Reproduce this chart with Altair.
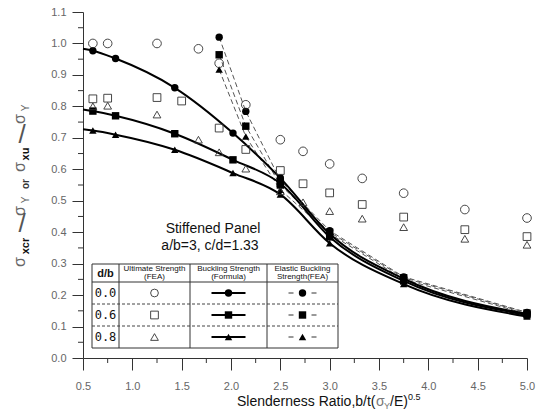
import altair as alt
import pandas as pd

# ---------------- data ----------------
x_ticks = [0.5, 1.0, 1.5, 2.0, 2.5, 3.0, 3.5, 4.0, 4.5, 5.0]
x_minor = [0.75, 1.25, 1.75, 2.25, 2.75, 3.25, 3.75, 4.25, 4.75]
y_ticks = [0.0, 0.1, 0.2, 0.3, 0.4, 0.5, 0.6, 0.7, 0.8, 0.9, 1.0, 1.1]
y_minor = [0.05, 0.15, 0.25, 0.35, 0.45, 0.55, 0.65, 0.75, 0.85, 0.95, 1.05]

# Ultimate strength (FEA) - open markers
ult_circle_x = [0.6, 0.75, 1.25, 1.67, 1.88, 2.15, 2.5, 2.73, 3.0, 3.33, 3.75, 4.37, 5.0]
ult_circle_y = [1.0, 1.0, 1.0, 0.983, 0.937, 0.805, 0.694, 0.657, 0.617, 0.571, 0.524, 0.472, 0.445]
ult_square_x = [0.6, 0.75, 1.25, 1.5, 1.88, 2.15, 2.5, 2.73, 3.0, 3.33, 3.75, 4.37, 5.0]
ult_square_y = [0.824, 0.826, 0.828, 0.817, 0.731, 0.663, 0.596, 0.554, 0.525, 0.488, 0.448, 0.408, 0.386]
ult_tri_x = [0.6, 0.75, 1.25, 1.67, 1.88, 2.15, 2.5, 2.73, 3.0, 3.33, 3.75, 4.37, 5.0]
ult_tri_y = [0.80, 0.802, 0.774, 0.694, 0.654, 0.602, 0.53, 0.495, 0.467, 0.443, 0.416, 0.379, 0.36]

# Buckling strength (formula) - solid lines
form_x = [0.5, 0.6, 0.83, 1.43, 2.02, 2.5, 3.0, 3.75, 5.0]
form_circle_y = [0.983, 0.977, 0.952, 0.859, 0.715, 0.572, 0.395, 0.252, 0.14]
form_square_y = [0.79, 0.785, 0.77, 0.713, 0.63, 0.555, 0.385, 0.245, 0.137]
form_tri_y = [0.727, 0.723, 0.71, 0.662, 0.588, 0.52, 0.365, 0.235, 0.132]

# Elastic buckling strength (FEA) - dashed lines
ela_x = [1.88, 2.15, 2.5, 3.0, 3.75, 5.0]
ela_circle_y = [1.02, 0.784, 0.565, 0.405, 0.258, 0.145]
ela_square_y = [0.964, 0.737, 0.55, 0.40, 0.255, 0.143]
ela_tri_y = [0.917, 0.704, 0.535, 0.395, 0.25, 0.14]

legend_rows = ["0.0", "0.6", "0.8"]
shapes = ["circle", "square", "triangle-up"]

# ---------------- chart ----------------
FONT = "Liberation Sans"
W, H = 444, 346
xsc = alt.Scale(domain=[0.5, 5.0], nice=False, zero=False)
ysc = alt.Scale(domain=[0.0, 1.1], nice=False, zero=False)
one = pd.DataFrame({"k": [0]})


def frame(xs, ys):
    return pd.DataFrame({"x": xs, "y": ys})


x_axis = alt.Axis(values=x_ticks, format=".1f", tickSize=12, labelPadding=10,
                  labelColor="#666", labelFont=FONT, labelFontSize=11,
                  domainColor="#333", tickColor="#333", grid=False, title=None,
                  labelFlush=False, labelOverlap=False, labelBound=False)
y_axis = alt.Axis(values=y_ticks, format=".1f", tickSize=11, labelPadding=6,
                  labelColor="#666", labelFont=FONT, labelFontSize=11,
                  domainColor="#333", tickColor="#333", grid=False, title=None,
                  labelFlush=False, labelOverlap=False, labelBound=False)

layers = []

# minor ticks
layers.append(
    alt.Chart(pd.DataFrame({"x": x_minor})).mark_rule(color="#333", strokeWidth=1).encode(
        x=alt.X("x:Q", scale=xsc, axis=x_axis), y=alt.value(H), y2=alt.value(H + 5)
    )
)
layers.append(
    alt.Chart(pd.DataFrame({"y": y_minor})).mark_rule(color="#333", strokeWidth=1).encode(
        y=alt.Y("y:Q", scale=ysc, axis=y_axis), x=alt.value(-5), x2=alt.value(0)
    )
)

enc = dict(x=alt.X("x:Q", scale=xsc, axis=x_axis), y=alt.Y("y:Q", scale=ysc, axis=y_axis))

# dashed elastic lines
for ys in [ela_circle_y, ela_square_y, ela_tri_y]:
    layers.append(
        alt.Chart(frame(ela_x, ys)).mark_line(color="#555", strokeWidth=1, strokeDash=[5, 3]).encode(**enc)
    )
# formula lines
for ys in [form_circle_y, form_square_y, form_tri_y]:
    layers.append(
        alt.Chart(frame(form_x, ys)).mark_line(color="#000", strokeWidth=2, interpolate="monotone").encode(**enc)
    )
# formula markers
for ys, shp in zip([form_circle_y, form_square_y, form_tri_y], shapes):
    layers.append(
        alt.Chart(frame(form_x, ys)).transform_filter("datum.x > 0.55").mark_point(
            shape=shp, filled=True, color="#000", size=55, opacity=1).encode(**enc)
    )
# elastic markers
for ys, shp in zip([ela_circle_y, ela_square_y, ela_tri_y], shapes):
    layers.append(
        alt.Chart(frame(ela_x, ys)).mark_point(
            shape=shp, filled=True, color="#000", size=55, opacity=1).encode(**enc)
    )
# ultimate open markers
for xs, ys, shp, sz in zip([ult_circle_x, ult_square_x, ult_tri_x],
                           [ult_circle_y, ult_square_y, ult_tri_y], shapes, [75, 60, 60]):
    layers.append(
        alt.Chart(frame(xs, ys)).mark_point(
            shape=shp, filled=False, color="#333", strokeWidth=0.9, size=sz, opacity=1).encode(**enc)
    )

# annotation text
layers.append(alt.Chart(one).mark_text(text="Stiffened Panel", font=FONT, fontSize=14, color="#111").encode(
    x=alt.value(130), y=alt.value(217)))
layers.append(alt.Chart(one).mark_text(text="a/b=3, c/d=1.33", font=FONT, fontSize=14, color="#111").encode(
    x=alt.value(127), y=alt.value(234)))

# ---- legend table ----
L, R, T, B = 9, 255, 252, 336
HB = 270
ROWS = [292, 314]
COLS = [36, 107, 184]
layers.append(alt.Chart(one).mark_rect(fill="white", stroke="#333", strokeWidth=1).encode(
    x=alt.value(L), x2=alt.value(R), y=alt.value(T), y2=alt.value(B)))
layers.append(alt.Chart(one).mark_rule(color="#333", strokeWidth=1).encode(
    x=alt.value(L), x2=alt.value(R), y=alt.value(HB)))
for ry in ROWS:
    layers.append(alt.Chart(one).mark_rule(color="#444", strokeWidth=1, strokeDash=[3, 2]).encode(
        x=alt.value(L), x2=alt.value(R), y=alt.value(ry)))
for cx in COLS:
    layers.append(alt.Chart(one).mark_rule(color="#333", strokeWidth=1).encode(
        x=alt.value(cx), y=alt.value(T), y2=alt.value(B)))

c1, c2, c3, c4 = 22.5, 71.5, 145.5, 219.5
layers.append(alt.Chart(one).mark_text(text="d/b", font=FONT, fontSize=11, fontWeight="bold", color="#111").encode(
    x=alt.value(c1), y=alt.value(262)))
for cx, (l1, l2) in zip([c2, c3, c4], [("Ultimate Strength", "(FEA)"),
                                        ("Buckling Strength", "(Formula)"),
                                        ("Elastic Buckling", "Strength(FEA)")]):
    layers.append(alt.Chart(one).mark_text(text=l1, font=FONT, fontSize=8, color="#111").encode(
        x=alt.value(cx), y=alt.value(256.5)))
    layers.append(alt.Chart(one).mark_text(text=l2, font=FONT, fontSize=8, color="#111").encode(
        x=alt.value(cx), y=alt.value(265)))

row_y = [281, 303, 325]
for lab, ry, shp in zip(legend_rows, row_y, shapes):
    layers.append(alt.Chart(one).mark_text(text=lab, font="DejaVu Sans Mono", fontSize=12, color="#111").encode(
        x=alt.value(c1), y=alt.value(ry)))
    layers.append(alt.Chart(one).mark_point(shape=shp, filled=False, color="#333", strokeWidth=0.9,
                                            size=60, opacity=1).encode(x=alt.value(c2), y=alt.value(ry)))
    layers.append(alt.Chart(one).mark_rule(color="#000", strokeWidth=2).encode(
        x=alt.value(c3 - 17), x2=alt.value(c3 + 17), y=alt.value(ry)))
    layers.append(alt.Chart(one).mark_point(shape=shp, filled=True, color="#000", size=55,
                                            opacity=1).encode(x=alt.value(c3), y=alt.value(ry)))
    for a, b in [(c4 - 14, c4 - 9), (c4 + 9, c4 + 14)]:
        layers.append(alt.Chart(one).mark_rule(color="#333", strokeWidth=1).encode(
            x=alt.value(a), x2=alt.value(b), y=alt.value(ry)))
    layers.append(alt.Chart(one).mark_point(shape=shp, filled=True, color="#000", size=55,
                                            opacity=1).encode(x=alt.value(c4), y=alt.value(ry)))

# ---- x axis title (composed) ----
tx = 154
layers.append(alt.Chart(one).mark_text(text="Slenderness Ratio,b/t(", font=FONT, fontSize=14, color="#111",
                                       align="left").encode(x=alt.value(tx), y=alt.value(390)))
layers.append(alt.Chart(one).mark_text(text="σ", font=FONT, fontSize=14, color="#777",
                                       align="left").encode(x=alt.value(tx + 139), y=alt.value(390)))
layers.append(alt.Chart(one).mark_text(text="Y", font=FONT, fontSize=9, color="#777",
                                       align="left").encode(x=alt.value(tx + 147), y=alt.value(394)))
layers.append(alt.Chart(one).mark_text(text="/E)", font=FONT, fontSize=14, color="#111",
                                       align="left").encode(x=alt.value(tx + 153), y=alt.value(390)))
layers.append(alt.Chart(one).mark_text(text="0.5", font=FONT, fontSize=9, color="#111",
                                       align="left").encode(x=alt.value(tx + 171), y=alt.value(385)))

# ---- y axis title (composed, rotated) ----
ypieces = [
    ("σ", -63, 250, 16, "normal", "#666"),
    ("xcr", -57, 234, 11, "bold", "#111"),
    ("σ", -63, 199, 16, "normal", "#666"),
    ("Y", -57, 188, 10, "normal", "#666"),
    ("or", -57, 172, 10, "bold", "#333"),
    ("σ", -63, 155, 16, "normal", "#666"),
    ("xu", -57, 142, 11, "bold", "#111"),
    ("σ", -63, 107, 16, "normal", "#666"),
    ("Y", -57, 96, 10, "normal", "#666"),
]
for t, px, py, fs, fw, col in ypieces:
    layers.append(alt.Chart(one).mark_text(text=t, font=FONT, fontSize=fs, fontWeight=fw, color=col,
                                           angle=270).encode(x=alt.value(px), y=alt.value(py)))
for py in [212, 123]:
    layers.append(alt.Chart(one).mark_text(text="/", font=FONT, fontSize=26, color="#555").encode(
        x=alt.value(-61), y=alt.value(py)))

chart = alt.layer(*layers).properties(
    width=W, height=H,
    autosize=alt.AutoSizeParams(type="none"),
    padding={"left": 83, "top": 12, "right": 10, "bottom": 54},
    background="white",
).configure_view(stroke=None)

chart.save("out.html", embed_options={"renderer": "svg", "actions": False})
